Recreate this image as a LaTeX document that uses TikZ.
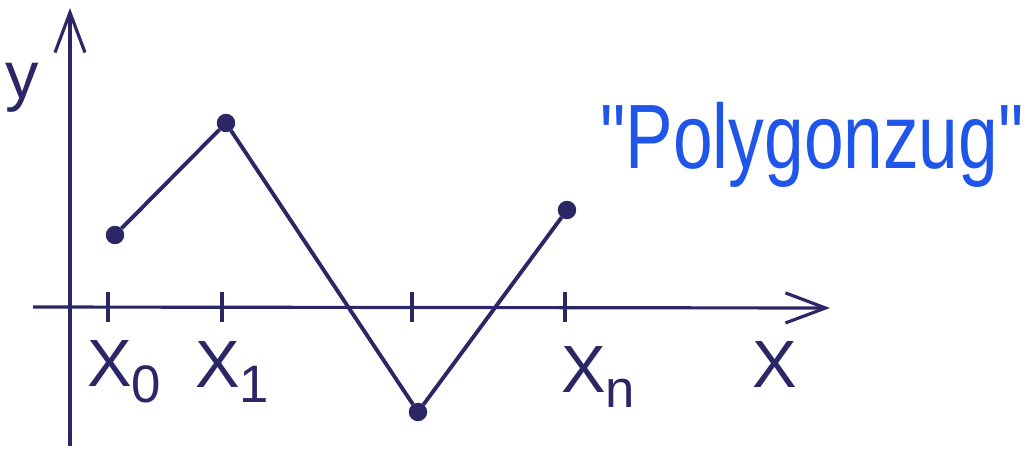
\documentclass[tikz,border=0pt]{standalone}
\usepackage{fontspec}
\setmainfont{Liberation Sans}
\newfontfamily\titlefont{Liberation Sans}[Ligatures=TeXOff]
\usepackage{xcolor}
\usepackage{tikz}
\usetikzlibrary{arrows.meta,positioning}
\definecolor{ink}{HTML}{2B2766}
\definecolor{marker}{HTML}{1F55E8}
\newcommand{\idx}[1]{\raisebox{-0.45ex}{\fontsize{15}{17}\selectfont #1}}

\begin{document}
\begin{tikzpicture}[x=0.01cm,y=-0.01cm,>={Straight Barb[length=0.4cm,width=0.3cm,line width=0.9pt]}]
        \useasboundingbox (0,0) rectangle (1027,448);
        \tikzset{dot/.style={circle,fill=ink,draw=ink,inner sep=0pt,minimum size=0.17cm},
          lbl/.style={text=ink,font=\fontsize{19}{21}\selectfont}}
        \coordinate (ybot) at (70,446);
        \coordinate (ytop) at (70,8);
        \coordinate (xleft) at (33,307);
        \coordinate (xright) at (830,308);
        \draw[ink,line width=0.9pt,->] (ybot)--(ytop);
        \draw[ink,line width=0.9pt,->] (xleft)--(xright);
        \foreach \t in {108,222,412,565} \draw[ink,line width=1.2pt] (\t,292)--(\t,322);
        \node[lbl] (ylab) at (22,88) {y};
        \node[lbl] (xlab) at (775,365) {X};
        \node[lbl] (x0) at (124,372) {X\idx{0}};
        \node[lbl] (x1) at (232,372) {X\idx{1}};
        \node[lbl] (xn) at (598,377) {X\idx{n}};
        \node[dot] (p0) at (115,235) {};
        \node[dot] (p1) at (226,123) {};
        \node[dot] (p2) at (418,412) {};
        \node[dot] (p3) at (567,210) {};
        \draw[ink,line width=1.1pt] (p0)--(p1)--(p2)--(p3);
        \node[text=marker,font=\titlefont\fontsize{26}{29}\selectfont,xscale=0.78,anchor=base] (title) at (812,168) {"Polygonzug"};
      \end{tikzpicture}
\end{document}
